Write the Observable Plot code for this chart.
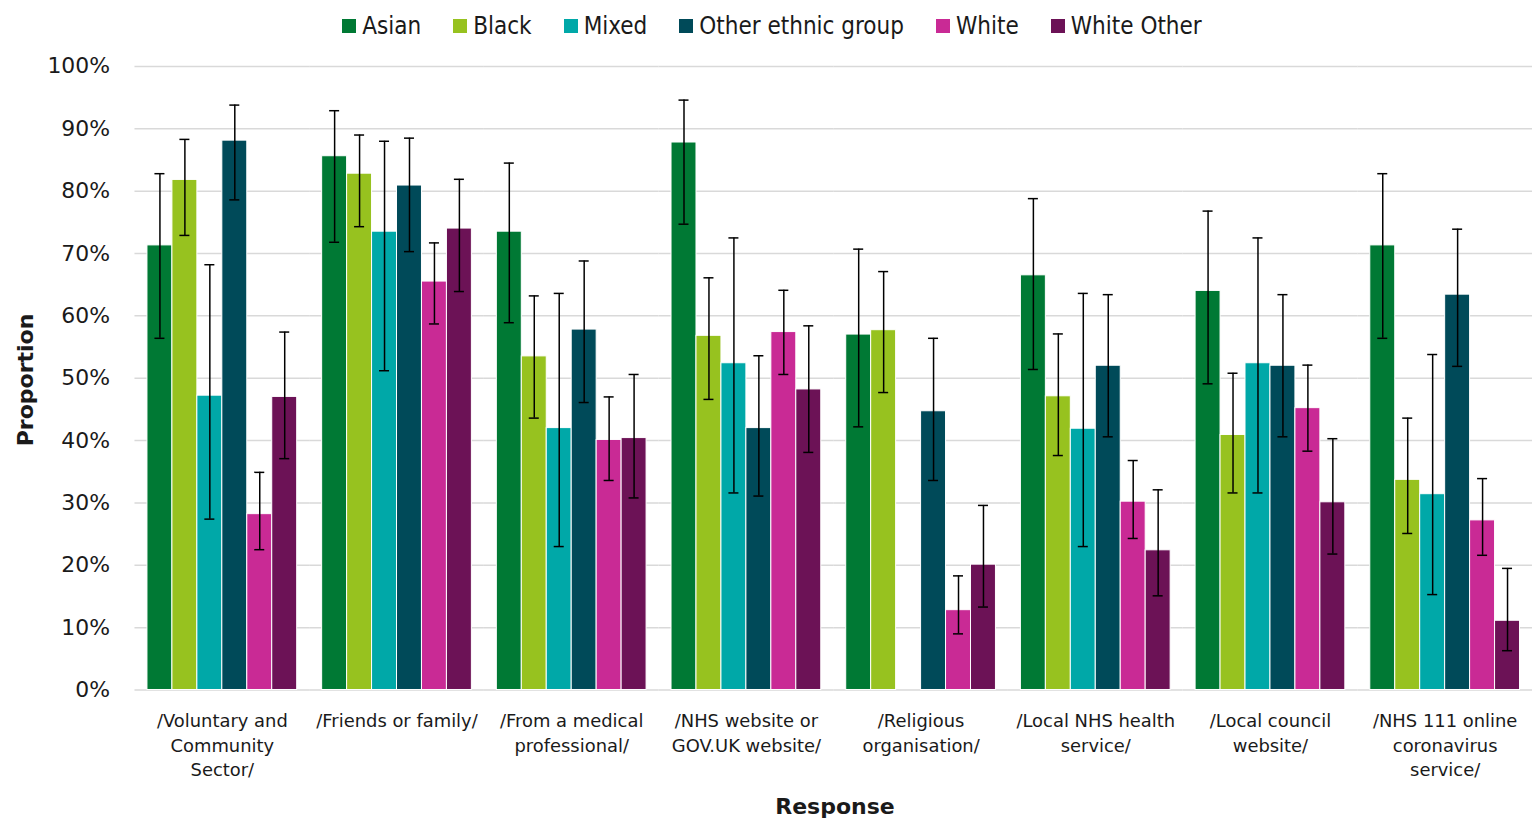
<!DOCTYPE html>
<html>
<head>
<meta charset="utf-8">
<script src="https://cdn.jsdelivr.net/npm/d3@7"></script>
<script src="https://cdn.jsdelivr.net/npm/@observablehq/plot@0.6"></script>
<style>
  html, body { margin: 0; background: white; overflow: hidden; }
  #wrap { position: relative; width: 1532px; height: 821px; overflow: hidden; font-family: "DejaVu Sans", sans-serif; color: #1a1a1a; }
  #legend { position: absolute; left: 0; top: 0; width: 1532px; height: 52px; display: flex; justify-content: center; align-items: center; gap: 32px; padding-left: 12px; box-sizing: border-box; font-family: "DejaVu Sans Condensed", "DejaVu Sans", sans-serif; font-size: 24px; }
  #legend .item { display: flex; align-items: center; gap: 6px; }
  #legend .sw { width: 14px; height: 14px; display: inline-block; }
  #chart { position: absolute; left: 0; top: 50px; }
  .ytitle { position: absolute; left: 25px; top: 380px; transform: translate(-50%, -50%) rotate(-90deg); font-weight: bold; font-size: 22px; white-space: nowrap; }
  .xtitle { position: absolute; left: 835px; top: 806px; transform: translate(-50%, -50%); font-weight: bold; font-size: 22px; white-space: nowrap; }
</style>
</head>
<body>
<div id="wrap">
  <div id="legend"></div>
  <div id="chart"></div>
  <div class="ytitle">Proportion</div>
  <div class="xtitle">Response</div>
</div>
<script>
const categories = [
  "/Voluntary and\nCommunity\nSector/",
  "/Friends or family/",
  "/From a medical\nprofessional/",
  "/NHS website or\nGOV.UK website/",
  "/Religious\norganisation/",
  "/Local NHS health\nservice/",
  "/Local council\nwebsite/",
  "/NHS 111 online\ncoronavirus\nservice/"
];
const series = ["Asian", "Black", "Mixed", "Other ethnic group", "White", "White Other"];
const colors = ["#007934", "#97c21f", "#00a8a8", "#004a59", "#c92a95", "#6c1256"];
const yTicks = [0, 10, 20, 30, 40, 50, 60, 70, 80, 90, 100];

const asian   = [71.3, 85.6, 73.5, 87.8, 57.0, 66.5, 64.0, 71.3];
const asianLo = [56.4, 71.8, 58.9, 74.7, 42.2, 51.4, 49.1, 56.4];
const asianHi = [82.8, 92.9, 84.5, 94.6, 70.7, 78.8, 76.8, 82.8];

const black   = [81.8, 82.8, 53.5, 56.8, 57.7, 47.1, 40.9, 33.7];
const blackLo = [72.9, 74.3, 43.6, 46.6, 47.7, 37.6, 31.6, 25.1];
const blackHi = [88.3, 89.0, 63.2, 66.1, 67.1, 57.1, 50.8, 43.6];

const mixed   = [47.2, 73.5, 42.0, 52.4, null, 41.9, 52.4, 31.4];
const mixedLo = [27.4, 51.2, 23.0, 31.6, null, 23.0, 31.6, 15.3];
const mixedHi = [68.2, 88.0, 63.6, 72.5, null, 63.6, 72.5, 53.8];

const other   = [88.1, 80.9, 57.8, 42.0, 44.7, 52.0, 52.0, 63.4];
const otherLo = [78.6, 70.3, 46.1, 31.1, 33.6, 40.6, 40.6, 51.9];
const otherHi = [93.8, 88.5, 68.8, 53.6, 56.4, 63.4, 63.4, 73.9];

const white   = [28.2, 65.5, 40.1, 57.4, 12.8, 30.2, 45.2, 27.2];
const whiteLo = [22.5, 58.7, 33.6, 50.6, 9.0, 24.3, 38.3, 21.6];
const whiteHi = [34.9, 71.7, 47.0, 64.1, 18.3, 36.8, 52.1, 33.9];

const whiteOther   = [47.0, 74.0, 40.4, 48.2, 20.1, 22.4, 30.1, 11.1];
const whiteOtherLo = [37.1, 63.9, 30.8, 38.1, 13.3, 15.1, 21.8, 6.3];
const whiteOtherHi = [57.4, 81.9, 50.6, 58.4, 29.6, 32.1, 40.3, 19.5];

const seriesValues = [
  [asian, asianLo, asianHi],
  [black, blackLo, blackHi],
  [mixed, mixedLo, mixedHi],
  [other, otherLo, otherHi],
  [white, whiteLo, whiteHi],
  [whiteOther, whiteOtherLo, whiteOtherHi]
];

const rows = [];
categories.forEach((c, i) => {
  series.forEach((s, j) => {
    const [v, lo, hi] = seriesValues[j];
    if (v[i] != null) rows.push({category: c, series: s, value: v[i], lo: lo[i], hi: hi[i]});
  });
});

// Legend
const legend = document.getElementById("legend");
series.forEach((s, i) => {
  const item = document.createElement("div");
  item.className = "item";
  const sw = document.createElement("span");
  sw.className = "sw";
  sw.style.background = colors[i];
  const t = document.createElement("span");
  t.textContent = s;
  item.appendChild(sw);
  item.appendChild(t);
  legend.appendChild(item);
});

const chart = Plot.plot({
  width: 1538,
  height: 771,
  marginLeft: 135,
  marginRight: 0,
  marginTop: 16,
  marginBottom: 129,
  style: {fontFamily: "DejaVu Sans", fontSize: "18px", color: "#1a1a1a", background: "white", overflow: "visible"},
  fx: {domain: categories, padding: 0, round: false, label: null},
  x: {domain: series, paddingInner: 0, paddingOuter: 0.5, round: false, axis: null},
  y: {domain: [0, 100], label: null},
  color: {domain: series, range: colors},
  marks: [
    Plot.gridY(yTicks, {stroke: "#d9d9d9", strokeOpacity: 1, strokeWidth: 1.5}),
    Plot.axisY(yTicks, {tickSize: 0, tickPadding: 25, tickFormat: d => d + "%", fontSize: 22, label: null}),
    Plot.barY(rows, {fx: "category", x: "series", y: "value", fill: "series", stroke: "white", strokeWidth: 1}),
    Plot.ruleX(rows, {fx: "category", x: "series", y1: "lo", y2: "hi", stroke: "black", strokeWidth: 1.5}),
    Plot.tickY(rows, {fx: "category", x: "series", y: "lo", stroke: "black", strokeWidth: 1.5, insetLeft: 7.5, insetRight: 7.5}),
    Plot.tickY(rows, {fx: "category", x: "series", y: "hi", stroke: "black", strokeWidth: 1.5, insetLeft: 7.5, insetRight: 7.5}),
    Plot.axisFx({anchor: "bottom", tickSize: 0, tickPadding: 19, fontSize: 18, lineHeight: 1.39, label: null})
  ]
});
document.getElementById("chart").appendChild(chart);
</script>
</body>
</html>
